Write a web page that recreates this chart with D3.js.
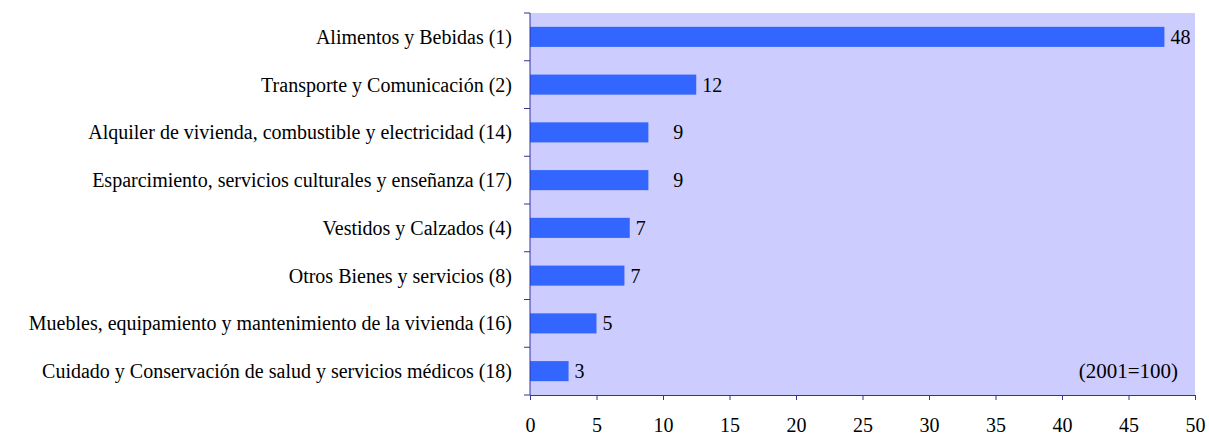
<!DOCTYPE html>
<html>
<head>
<meta charset="utf-8">
<script src="https://cdn.jsdelivr.net/npm/d3@7"></script>
<style>
  body { margin: 0; background: #fff; }
</style>
</head>
<body>
<div id="chart"></div>
<script>
// data
var categories = [
  "Alimentos y Bebidas (1)",
  "Transporte y Comunicación (2)",
  "Alquiler de vivienda, combustible y electricidad (14)",
  "Esparcimiento, servicios culturales y enseñanza (17)",
  "Vestidos y Calzados (4)",
  "Otros Bienes y servicios (8)",
  "Muebles, equipamiento y mantenimiento de la vivienda (16)",
  "Cuidado y Conservación de salud y servicios médicos (18)"
];
var values = [47.7, 12.5, 8.9, 8.9, 7.5, 7.1, 5.0, 2.9];
var valueLabels = ["48", "12", "9", "9", "7", "7", "5", "3"];
var xTicks = [0, 5, 10, 15, 20, 25, 30, 35, 40, 45, 50];
var note = "(2001=100)";

var FONT = "'Liberation Serif', 'Times New Roman', Times, serif";
var svgWidth = 1209, svgHeight = 435;
var margin = { top: 13, right: 14, bottom: 40, left: 530 };
var width = svgWidth - margin.left - margin.right;
var height = svgHeight - margin.top - margin.bottom;

// extra label offsets (Excel placed the "9" labels further out)
var labelDx = [6, 6, 25, 25, 6, 6, 6, 6];

var svg = d3.select("#chart").append("svg")
  .attr("width", svgWidth)
  .attr("height", svgHeight)
  .attr("font-family", FONT);

var chartGroup = svg.append("g")
  .attr("transform", `translate(${margin.left}, ${margin.top})`);

var x = d3.scaleLinear().domain([0, 50]).range([0, width]);
var y = d3.scaleBand().domain(categories).range([0, height]).paddingInner(0.58).paddingOuter(0.29);

// plot background
chartGroup.append("rect")
  .attr("width", width)
  .attr("height", height)
  .attr("fill", "#CCCCFF");

// bars
chartGroup.selectAll(".bar")
  .data(values)
  .enter()
  .append("rect")
  .attr("class", "bar")
  .attr("x", 0)
  .attr("y", (d, i) => y(categories[i]))
  .attr("width", d => x(d))
  .attr("height", y.bandwidth())
  .attr("fill", "#3366FF");

// value labels
chartGroup.selectAll(".vlabel")
  .data(values)
  .enter()
  .append("text")
  .attr("class", "vlabel")
  .attr("x", (d, i) => x(d) + labelDx[i])
  .attr("y", (d, i) => y(categories[i]) + y.bandwidth() / 2)
  .attr("dy", "0.35em")
  .attr("font-family", FONT)
  .attr("font-size", "20px")
  .attr("fill", "#000")
  .text((d, i) => valueLabels[i]);

// x axis
var bottomAxis = d3.axisBottom(x).tickValues(xTicks).tickSize(5).tickPadding(18);
var xg = chartGroup.append("g")
  .attr("transform", `translate(0, ${height})`)
  .call(bottomAxis)
  .attr("font-family", FONT)
  .attr("font-size", 20);
xg.select(".domain").attr("stroke", "#333399");
xg.selectAll(".tick line").attr("stroke", "#333399");
xg.selectAll(".tick text").attr("fill", "#000");

// y axis: ticks at category boundaries
var boundaries = d3.range(categories.length + 1).map(i => i * height / categories.length);
chartGroup.append("line")
  .attr("x1", 0).attr("x2", 0)
  .attr("y1", 0).attr("y2", height)
  .attr("stroke", "#333399");
chartGroup.selectAll(".ytick")
  .data(boundaries)
  .enter()
  .append("line")
  .attr("x1", -6).attr("x2", 0)
  .attr("y1", d => d).attr("y2", d => d)
  .attr("stroke", "#333399");

// category labels
chartGroup.selectAll(".clabel")
  .data(categories)
  .enter()
  .append("text")
  .attr("class", "clabel")
  .attr("x", -18)
  .attr("y", d => y(d) + y.bandwidth() / 2)
  .attr("dy", "0.35em")
  .attr("text-anchor", "end")
  .attr("font-family", FONT)
  .attr("font-size", "20px")
  .attr("fill", "#000")
  .text(d => d);

// note
chartGroup.append("text")
  .attr("x", width - 17)
  .attr("y", height - 24)
  .attr("dy", "0.35em")
  .attr("text-anchor", "end")
  .attr("font-family", FONT)
  .attr("font-size", "21px")
  .attr("fill", "#000")
  .text(note);
</script>
</body>
</html>
